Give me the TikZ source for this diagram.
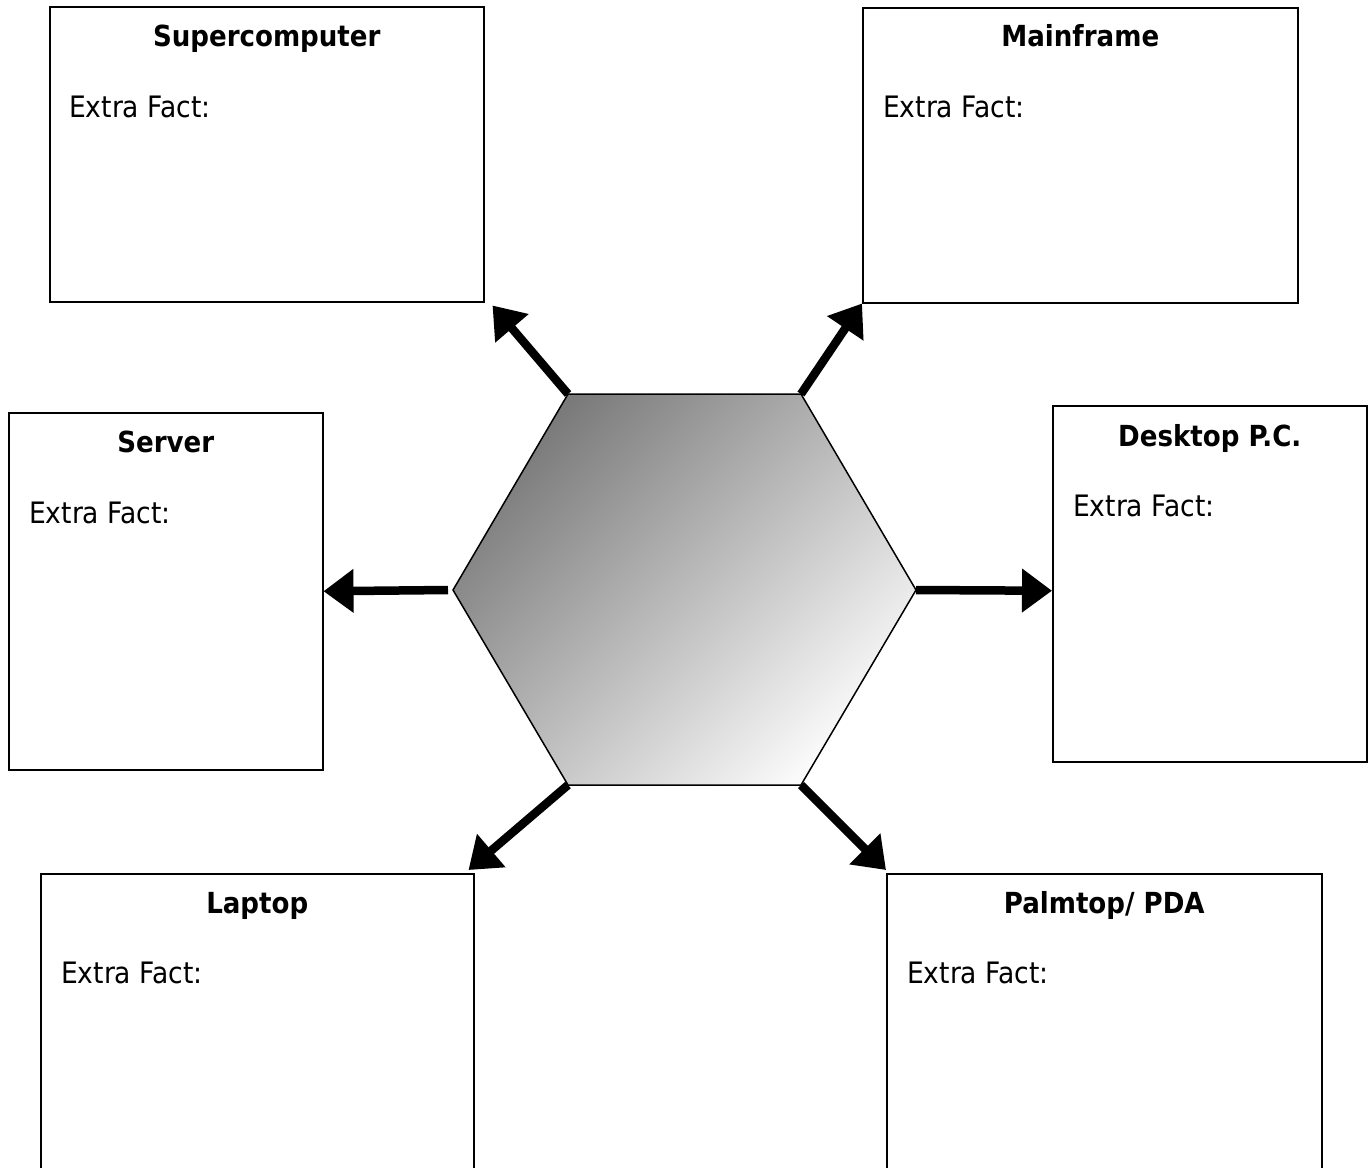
\documentclass[tikz,border=0pt]{standalone}
\usepackage{fontspec}
\setmainfont{DejaVu Sans Condensed}
\usetikzlibrary{arrows.meta}
\begin{document}
\begin{tikzpicture}[x=1pt,y=-1pt,
  box/.style={draw=black, line width=1.5pt, rectangle, anchor=north west, inner sep=0pt, fill=white},
  ttl/.style={anchor=base, font=\fontsize{29}{32}\selectfont\bfseries, inner sep=0pt},
  fact/.style={anchor=base west, font=\fontsize{29.5}{32}\selectfont, inner sep=0pt},
  conn/.style={line width=8.5pt, -{Triangle[length=30pt,width=42pt]}}
]
\useasboundingbox (0,0) rectangle (1372,1167);

% boxes
\node[box, minimum width=434pt, minimum height=295pt] (super) at (49,6) {};
\node[box, minimum width=435pt, minimum height=295pt] (main) at (862,7) {};
\node[box, minimum width=314pt, minimum height=357pt] (server) at (8,412) {};
\node[box, minimum width=314pt, minimum height=356pt] (desk) at (1052,405) {};
\node[box, minimum width=433pt, minimum height=330pt] (lap) at (40,873) {};
\node[box, minimum width=435pt, minimum height=330pt] (palm) at (886,873) {};

% titles
\node[ttl] (tsuper) at ([yshift=-40pt]super.north) {Supercomputer};
\node[ttl] (tmain) at ([yshift=-39pt]main.north) {Mainframe};
\node[ttl] (tserver) at ([yshift=-40pt]server.north) {Server};
\node[ttl] (tdesk) at ([yshift=-41pt]desk.north) {Desktop P.C.};
\node[ttl] (tlap) at ([yshift=-40pt]lap.north) {Laptop};
\node[ttl] (tpalm) at ([yshift=-40pt]palm.north) {Palmtop/ PDA};

% facts
\node[fact] (fsuper) at ([xshift=20pt,yshift=-111pt]super.north west) {Extra Fact:};
\node[fact] (fmain) at ([xshift=21pt,yshift=-110pt]main.north west) {Extra Fact:};
\node[fact] (fserver) at ([xshift=21pt,yshift=-111pt]server.north west) {Extra Fact:};
\node[fact] (fdesk) at ([xshift=21pt,yshift=-111pt]desk.north west) {Extra Fact:};
\node[fact] (flap) at ([xshift=21pt,yshift=-110pt]lap.north west) {Extra Fact:};
\node[fact] (fpalm) at ([xshift=21pt,yshift=-110pt]palm.north west) {Extra Fact:};

% hexagon
\coordinate (htl) at (568,394);
\coordinate (htr) at (801,394);
\coordinate (hr) at (916,590);
\coordinate (hbr) at (801,785);
\coordinate (hbl) at (568,785);
\coordinate (hl) at (453,590);
\shade[top color=black!52, bottom color=black!2, shading angle=45]
  (htl) -- (htr) -- (hr) -- (hbr) -- (hbl) -- (hl) -- cycle;
\draw[line width=1.5pt, line join=miter] (htl) -- (htr) -- (hr) -- (hbr) -- (hbl) -- (hl) -- cycle;

% connectors
\draw[conn] (htl) -- ([xshift=8pt,yshift=-3pt]super.south east);
\draw[conn] (htr) -- (main.south west);
\draw[conn] ([xshift=-5pt]hl) -- (server.east);
\draw[conn] (hr) -- ([yshift=-7pt]desk.west);
\draw[conn] (hbl) -- ([xshift=-6pt,yshift=3pt]lap.north east);
\draw[conn] (hbr) -- ([yshift=3pt]palm.north west);
\end{tikzpicture}
\end{document}
